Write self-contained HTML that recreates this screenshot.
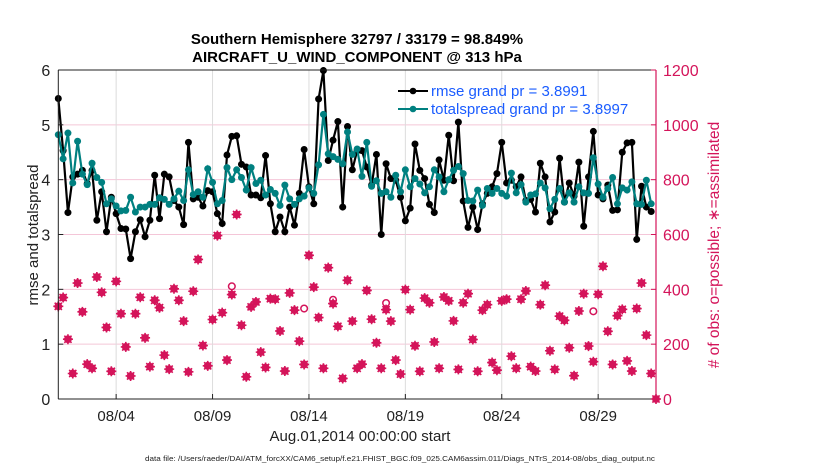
<!DOCTYPE html>
<html><head><meta charset="utf-8"><style>
body{margin:0;background:#fff;}
svg{display:block;font-family:"Liberation Sans",Arial,sans-serif;}
</style></head><body>
<svg id="chart" width="830" height="470" viewBox="0 0 830 470"></svg>
<script>
const rmse=[5.48,4.53,3.4,4.05,4.1,4.17,3.93,4.17,3.26,3.78,3.05,3.68,3.38,3.11,3.1,2.56,3.05,3.27,2.96,3.26,4.08,3.29,4.1,4.05,3.62,3.5,3.18,4.68,3.65,3.68,3.52,3.8,3.78,3.38,3.2,4.45,4.79,4.8,4.28,4.23,3.72,3.72,3.67,4.44,3.56,3.05,3.32,3.05,3.5,3.17,3.75,4.55,3.87,3.56,5.47,5.99,4.35,4.72,5.06,3.5,4.97,4.18,
4.53,4.53,4.23,3.9,4.46,3.0,4.29,4.02,3.99,3.68,3.25,3.48,4.65,4.17,4.02,3.55,3.4,4.36,3.99,4.81,3.98,5.05,3.61,3.13,3.5,3.09,3.56,3.75,3.87,4.11,4.68,3.94,3.99,3.87,4.05,3.62,3.64,3.41,4.3,4.05,3.23,3.41,4.39,3.59,3.94,3.7,4.32,3.15,4.05,4.88,3.72,3.65,3.9,3.44,3.45,4.5,4.67,4.68,2.91,3.88,3.5,3.42];
const spread=[4.82,4.38,4.85,3.94,4.7,4.1,3.91,4.3,4.04,3.95,3.56,3.65,3.52,3.43,3.44,3.68,3.41,3.5,3.5,3.55,3.55,3.67,3.64,3.55,3.65,3.79,3.62,4.18,3.73,3.78,3.68,4.2,3.95,3.56,3.62,4.22,4.0,4.18,4.04,3.81,4.22,3.93,3.99,3.72,3.82,3.75,3.53,3.9,3.65,3.55,3.65,3.7,3.85,3.75,4.27,5.19,4.47,4.42,4.37,4.29,4.87,4.46,
4.56,4.06,4.68,3.88,3.98,3.75,3.78,3.68,4.08,3.78,4.18,3.87,4.02,3.92,3.76,3.87,4.18,4.05,3.78,4.0,4.17,4.24,4.11,3.62,3.61,3.81,3.53,3.84,3.75,3.84,3.75,3.7,4.12,3.76,3.91,3.59,3.72,3.74,3.94,3.85,3.47,3.64,3.84,3.59,3.76,3.59,3.87,3.76,3.75,4.4,3.92,3.68,3.84,4.04,3.56,3.85,3.81,3.96,3.56,3.55,3.99,3.56];
const nobs=[338,370,218,93,423,318,127,112,445,389,261,101,429,311,190,84,311,371,223,118,360,333,160,109,402,360,284,99,393,509,195,121,290,596,315,142,381,673,269,81,336,354,171,115,366,364,248,102,387,324,211,126,524,408,297,112,479,348,265,75,433,284,112,
127,396,291,205,112,326,284,142,91,399,326,194,101,368,351,208,112,372,358,285,108,351,384,217,101,324,344,133,105,358,364,156,112,364,394,118,102,344,415,176,108,302,287,187,85,321,384,193,136,382,484,247,126,304,327,139,102,330,423,233,93,0];
const possIdx=[36,51,57,68,111];
const possVal=[411,330,362,350,320];
const yTicks=[0,1,2,3,4,5,6];
const y2Ticks=[0,200,400,600,800,1000,1200];
const xTickDays=[3,8,13,18,23,28];
const xTickLabels=['08/04','08/09','08/14','08/19','08/24','08/29'];

const NS='http://www.w3.org/2000/svg';
const svg=document.getElementById('chart');
const L=58.3,R=656,T=70,B=399;
const xs=d=>L+(R-L)*d/31;
const ys=v=>B-(B-T)*v/6;
const ys2=v=>B-(B-T)*v/1200;
function mk(tag,attrs,parent){const e=document.createElementNS(NS,tag);for(const k in attrs)e.setAttribute(k,attrs[k]);(parent||svg).appendChild(e);return e;}
const RED='#d4145a';
const grid=mk('g',{});


yTicks.forEach(v=>{if(v>0&&v<6)mk('line',{x1:L,x2:R,y1:ys(v),y2:ys(v),stroke:'#f4c6d8','stroke-width':1},grid);});
xTickDays.forEach(d=>mk('line',{x1:xs(d),x2:xs(d),y1:T,y2:B,stroke:'#dcdcdc','stroke-width':1},grid));
const sc=mk('g',{});


nobs.forEach((v,i)=>{const x=xs(i/4),y=ys2(v);
 mk('path',{d:`M${x-5},${y}H${x+5}M${x},${y-5}V${y+5}M${x-3.6},${y-3.6}L${x+3.6},${y+3.6}M${x-3.6},${y+3.6}L${x+3.6},${y-3.6}`,stroke:RED,'stroke-width':1.6},sc);
 mk('circle',{cx:x,cy:y,r:3.9,fill:RED},sc);});
possIdx.forEach((idx,j)=>{mk('circle',{cx:xs(idx/4),cy:ys2(possVal[j]),r:3.3,fill:'none',stroke:RED,'stroke-width':1.5},sc);});
function series(arr,col,name){const g=mk('g',{});
 
 
 mk('polyline',{points:arr.map((v,i)=>xs(i/4)+','+ys(v)).join(' '),fill:'none',stroke:col,'stroke-width':2.2},g);
 arr.forEach((v,i)=>mk('circle',{cx:xs(i/4),cy:ys(v),r:3.5,fill:col},g));}
series(rmse,'#000','rmse-line');
series(spread,'#008080','totalspread-line');
const ax=mk('g',{});


mk('line',{x1:L,x2:L,y1:T,y2:B,stroke:'#222'},ax);
mk('line',{x1:L,x2:R,y1:B,y2:B,stroke:'#222'},ax);
mk('line',{x1:L,x2:R,y1:T,y2:T,stroke:'#222'},ax);
mk('line',{x1:R,x2:R,y1:T,y2:B,stroke:RED,'stroke-width':1.2},ax);
yTicks.forEach(v=>{mk('line',{x1:L,x2:L+5,y1:ys(v),y2:ys(v),stroke:'#222'},ax);
 const t=mk('text',{x:L-8,y:ys(v)+6,'text-anchor':'end','font-size':16,fill:'#222'},ax);t.textContent=v;});
y2Ticks.forEach(v=>{mk('line',{x1:R-5,x2:R,y1:ys2(v),y2:ys2(v),stroke:RED},ax);
 const t=mk('text',{x:R+7,y:ys2(v)+6,'font-size':16,fill:RED},ax);t.textContent=v;});
xTickDays.forEach((d,i)=>{mk('line',{x1:xs(d),x2:xs(d),y1:B,y2:B-5,stroke:'#222'},ax);
 const t=mk('text',{x:xs(d),y:B+22,'text-anchor':'middle','font-size':15,fill:'#222'},ax);t.textContent=xTickLabels[i];});
</script>
<svg style="position:absolute;left:0;top:0" width="830" height="470">
<text x="357" y="44" text-anchor="middle" font-size="15" font-weight="bold" font-family="Liberation Sans,sans-serif">Southern Hemisphere 32797 / 33179 = 98.849%</text>
<text x="357" y="62" text-anchor="middle" font-size="15" font-weight="bold" font-family="Liberation Sans,sans-serif">AIRCRAFT_U_WIND_COMPONENT @ 313 hPa</text>
<text x="360" y="441" text-anchor="middle" font-size="15" fill="#222" font-family="Liberation Sans,sans-serif">Aug.01,2014 00:00:00 start</text>
<text x="145" y="461" font-size="7.5" textLength="510" lengthAdjust="spacingAndGlyphs" fill="#222" font-family="Liberation Sans,sans-serif">data file: /Users/raeder/DAI/ATM_forcXX/CAM6_setup/f.e21.FHIST_BGC.f09_025.CAM6assim.011/Diags_NTrS_2014-08/obs_diag_output.nc</text>
<text transform="translate(38,235) rotate(-90)" text-anchor="middle" font-size="15" fill="#222" font-family="Liberation Sans,sans-serif">rmse and totalspread</text>
<text transform="translate(719,245) rotate(-90)" text-anchor="middle" font-size="15.5" fill="#d4145a" font-family="Liberation Sans,sans-serif"># of obs: o=possible; ∗=assimilated</text>
<g font-family="Liberation Sans,sans-serif" font-size="15" fill="#1a5cff">
<line x1="398" x2="428" y1="91" y2="91" stroke="#000" stroke-width="2"/><circle cx="413" cy="91" r="3.3" fill="#000"/>
<text x="431" y="96">rmse grand pr = 3.8991</text>
<line x1="398" x2="428" y1="109" y2="109" stroke="#008080" stroke-width="2"/><circle cx="413" cy="109" r="3.3" fill="#008080"/>
<text x="431" y="114">totalspread grand pr = 3.8997</text>
</g>
</svg>
</body></html>
